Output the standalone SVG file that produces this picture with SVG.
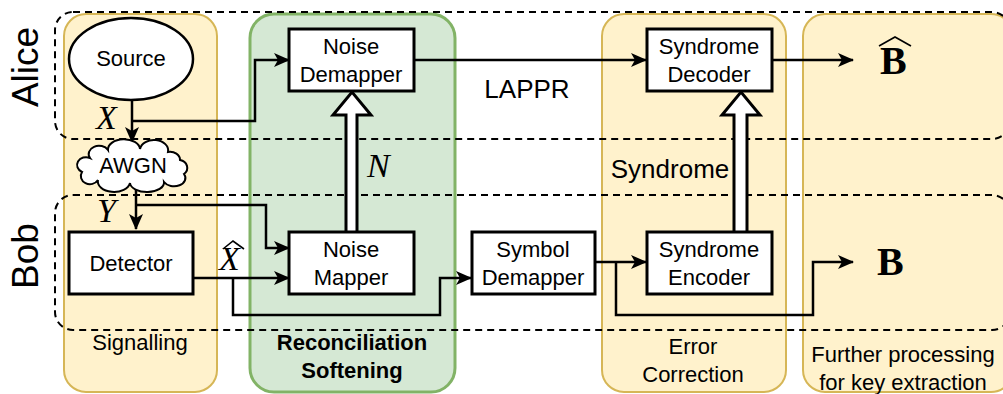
<svg xmlns="http://www.w3.org/2000/svg" width="1003" height="394" viewBox="0 0 1003 394">
<defs>
<marker id="arr" viewBox="0 0 16 14" refX="15" refY="7" markerWidth="16" markerHeight="14" markerUnits="userSpaceOnUse" orient="auto">
<path d="M0,0 L16,7 L0,14 L4,7 Z" fill="#000"/>
</marker>
<style>
.col{fill:#fff2cc;stroke:#d6b656;stroke-width:2}
.green{fill:#d5e8d4;stroke:#82b366;stroke-width:3}
.dash{fill:none;stroke:#000;stroke-width:2;stroke-dasharray:7 5}
.box{fill:#fff;stroke:#000;stroke-width:3}
.conn{fill:none;stroke:#000;stroke-width:2.5}
.t{font-family:"Liberation Sans",Arial,sans-serif;font-size:22px;fill:#000;text-anchor:middle}
.big{font-size:26px}
.bold{font-weight:bold}
.who{font-family:"Liberation Sans",Arial,sans-serif;font-size:37px;fill:#000;text-anchor:middle}
.m{font-family:"Liberation Serif","Times New Roman",serif;font-style:italic;font-size:34px;fill:#000}
.mb{font-family:"Liberation Serif","Times New Roman",serif;font-weight:bold;font-size:40px;fill:#000}
.hat{fill:none;stroke:#000;stroke-width:1.6;stroke-linejoin:miter}
.block{fill:#fff;stroke:#000;stroke-width:3}
</style>
</defs>

<g id="columns">
<rect id="col-signalling" class="col" x="64" y="14" width="153" height="378" rx="22"/>
<rect id="col-reconciliation" class="green" x="250" y="14" width="205" height="378" rx="24"/>
<rect id="col-error" class="col" x="602" y="14" width="184" height="378" rx="22"/>
<rect id="col-further" class="col" x="803" y="14" width="210" height="378" rx="22"/>
<text class="t" x="140" y="350">Signalling</text>
<text class="t bold" x="352" y="350">Reconciliation</text>
<text class="t bold" x="352" y="378">Softening</text>
<text class="t" x="693" y="354">Error</text>
<text class="t" x="693" y="382">Correction</text>
<text class="t" x="903" y="362">Further processing</text>
<text class="t" x="903" y="390">for key extraction</text>
</g>

<g id="parties">
<rect id="alice-area" class="dash" x="55" y="12" width="955" height="127" rx="18"/>
<rect id="bob-area" class="dash" x="55" y="195" width="955" height="135" rx="18"/>
<text class="who" transform="translate(38,67) rotate(-90)" x="0" y="0">Alice</text>
<text class="who" transform="translate(38,256) rotate(-90)" x="0" y="0">Bob</text>
</g>

<g id="connectors">
<path class="conn" d="M132,100 V142" marker-end="url(#arr)"/>
<path class="conn" d="M132,121 H255 V60 H289" marker-end="url(#arr)"/>
<path class="conn" d="M136,182 V229" marker-end="url(#arr)"/>
<path class="conn" d="M136,205 H266 V248 H289" marker-end="url(#arr)"/>
<path class="conn" d="M193,278 H289" marker-end="url(#arr)"/>
<path class="conn" d="M233,278 V315 H440 V278 H471" marker-end="url(#arr)"/>
<path class="conn" d="M414,60 H646" marker-end="url(#arr)"/>
<path class="conn" d="M595,262 H646" marker-end="url(#arr)"/>
<path class="conn" d="M616,262 V315 H813 V262 H853" marker-end="url(#arr)"/>
<path class="conn" d="M772,60 H853" marker-end="url(#arr)"/>
<path class="block" d="M346,232 V115 H333 L352,92 L371,115 H357 V232"/>
<path class="block" d="M734,232 V115 H722 L741,92 L760,115 H747 V232"/>
<text class="t big" x="527" y="98">LAPPR</text>
<text class="t big" x="670" y="178">Syndrome</text>
<text class="m" x="96" y="129">X</text>
<text class="m" x="97" y="222">Y</text>
<text class="m" x="219" y="270">X</text>
<path class="hat" d="M223,249 L233,241 L244,249"/>
<text class="m" x="367" y="177">N</text>
<text class="mb" x="880" y="74">B</text>
<path class="hat" d="M879,46 L895,37 L911,46" stroke-width="2.5"/>
<text class="mb" x="877" y="275">B</text>
</g>

<g id="source">
<ellipse cx="131" cy="59" rx="62" ry="41" fill="#fff" stroke="#000" stroke-width="2.5"/>
<text class="t" x="131" y="66">Source</text>
</g>

<g id="awgn">
<path d="M90,158 A10,8 0 0 1 108,150 A14,9 0 0 1 140,149 A12,9 0 0 1 168,152 A10,8 0 0 1 180,160 A9,8 0 0 1 184,174 A11,8 0 0 1 164,182 A16,9 0 0 1 130,183 A14,9 0 0 1 98,180 A9,8 0 0 1 82,172 A8,7 0 0 1 90,158 Z" fill="#fff" stroke="#000" stroke-width="2"/>
<text class="t" x="133" y="173">AWGN</text>
</g>

<g id="detector">
<rect class="box" x="69" y="232" width="124" height="62"/>
<text class="t" x="131" y="271">Detector</text>
</g>

<g id="noise-demapper">
<rect class="box" x="289" y="29" width="125" height="62"/>
<text class="t" x="351" y="54">Noise</text>
<text class="t" x="351" y="82">Demapper</text>
</g>

<g id="noise-mapper">
<rect class="box" x="289" y="232" width="125" height="62"/>
<text class="t" x="351" y="257">Noise</text>
<text class="t" x="351" y="285">Mapper</text>
</g>

<g id="symbol-demapper">
<rect class="box" x="472" y="232" width="123" height="62"/>
<text class="t" x="533" y="257">Symbol</text>
<text class="t" x="533" y="285">Demapper</text>
</g>

<g id="syndrome-decoder">
<rect class="box" x="647" y="29" width="125" height="62"/>
<text class="t" x="709" y="54">Syndrome</text>
<text class="t" x="709" y="82">Decoder</text>
</g>

<g id="syndrome-encoder">
<rect class="box" x="647" y="232" width="125" height="62"/>
<text class="t" x="709" y="257">Syndrome</text>
<text class="t" x="709" y="285">Encoder</text>
</g>
</svg>
